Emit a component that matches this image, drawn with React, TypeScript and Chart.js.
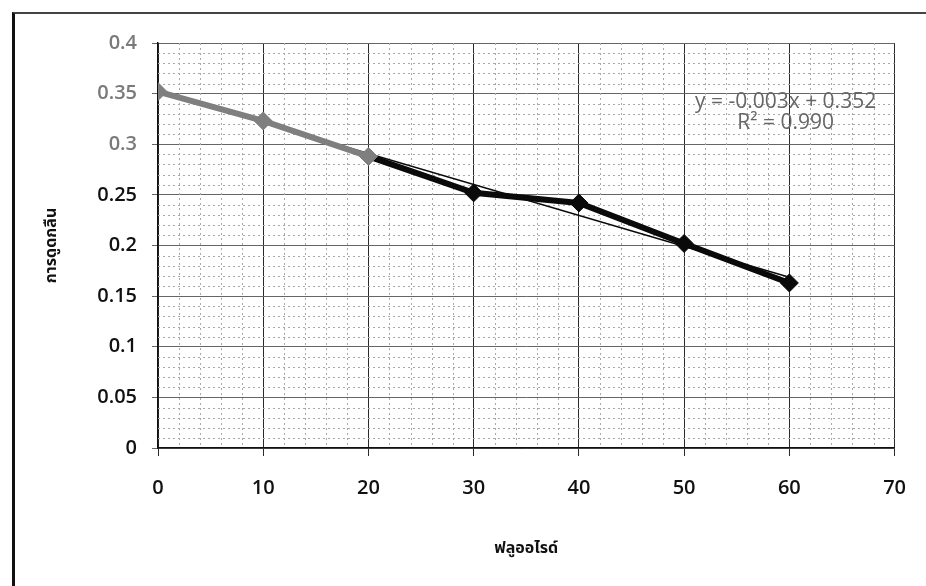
import React, { useEffect, useRef } from 'react';
import { Chart, registerables } from 'chart.js';

Chart.register(...registerables);

// ---- data ----
const fluorideX: number[] = [0, 10, 20, 30, 40, 50, 60];
const absorbance: number[] = [0.352, 0.323, 0.288, 0.252, 0.242, 0.202, 0.163];

const xMin = 0;
const xMax = 70;
const xStep = 10;
const xMinorStep = 2;
const yMin = 0;
const yMax = 0.4;
const yStep = 0.05;
const yMinorStep = 0.01;

const xTitle = 'ฟลูออไรด์';
const yTitle = 'การดูดกลืน';

// ---- regression (trendline) ----
function linReg(xs: number[], ys: number[]) {
  const n = xs.length;
  const mx = xs.reduce((a, b) => a + b, 0) / n;
  const my = ys.reduce((a, b) => a + b, 0) / n;
  let sxy = 0, sxx = 0, syy = 0;
  for (let i = 0; i < n; i++) {
    sxy += (xs[i] - mx) * (ys[i] - my);
    sxx += (xs[i] - mx) ** 2;
    syy += (ys[i] - my) ** 2;
  }
  const slope = sxy / sxx;
  const intercept = my - slope * mx;
  const r2 = (sxy * sxy) / (sxx * syy);
  return { slope, intercept, r2 };
}

const reg = linReg(fluorideX, absorbance);
const trendX = [fluorideX[0], fluorideX[fluorideX.length - 1]];
const trendPoints = trendX.map((x) => ({ x, y: reg.intercept + reg.slope * x }));
const eqLine1 = `y = ${reg.slope.toFixed(3)}x + ${reg.intercept.toFixed(3)}`;
const eqLine2 = `R² = ${reg.r2.toFixed(3)}`;

const GREY = '#7f7f7f';
const BLACK = '#0a0a0a';
const fadeBelowX = 20;

const minorGridPlugin = {
  id: 'minorGrid',
  beforeDatasetsDraw(chart: any) {
    const { ctx, chartArea: a, scales } = chart;
    const xs = scales.x;
    const ys = scales.y;
    ctx.save();
    ctx.setLineDash([2, 3]);
    ctx.strokeStyle = '#a8a8a8';
    ctx.lineWidth = 1;
    for (let i = 0; xMin + i * xMinorStep <= xMax + 1e-9; i++) {
      const v = xMin + i * xMinorStep;
      if (Math.abs(v / xStep - Math.round(v / xStep)) < 1e-9) continue;
      const px = Math.round(xs.getPixelForValue(v)) + 0.5;
      ctx.beginPath();
      ctx.moveTo(px, a.top);
      ctx.lineTo(px, a.bottom);
      ctx.stroke();
    }
    for (let i = 0; yMin + i * yMinorStep <= yMax + 1e-9; i++) {
      const v = yMin + i * yMinorStep;
      if (Math.abs(v / yStep - Math.round(v / yStep)) < 1e-6) continue;
      const py = Math.round(ys.getPixelForValue(v)) + 0.5;
      ctx.beginPath();
      ctx.moveTo(a.left, py);
      ctx.lineTo(a.right, py);
      ctx.stroke();
    }
    ctx.restore();
  },
};

const equationPlugin = {
  id: 'equation',
  afterDatasetsDraw(chart: any) {
    const { ctx, chartArea: a } = chart;
    ctx.save();
    ctx.fillStyle = '#666666';
    ctx.font = '21px "Open Sans", sans-serif';
    ctx.textAlign = 'center';
    ctx.textBaseline = 'middle';
    const cx = a.right - 109;
    ctx.fillText(eqLine1, cx, a.top + 59);
    ctx.fillText(eqLine2, cx, a.top + 80);
    ctx.restore();
  },
};

export default function App() {
  const canvasRef = useRef<HTMLCanvasElement | null>(null);

  useEffect(() => {
    if (!canvasRef.current) return;
    const chart = new Chart(canvasRef.current, {
      type: 'scatter',
      data: {
        datasets: [
          {
            label: 'absorbance',
            data: fluorideX.map((x, i) => ({ x, y: absorbance[i] })),
            showLine: true,
            borderWidth: 6,
            borderColor: BLACK,
            segment: {
              borderColor: (c: any) => (c.p0.parsed.x < fadeBelowX ? GREY : BLACK),
            },
            pointStyle: 'rectRot',
            pointRadius: 9,
            pointBorderWidth: 1,
            pointBackgroundColor: fluorideX.map((x) => (x <= fadeBelowX ? GREY : BLACK)),
            pointBorderColor: fluorideX.map((x) => (x <= fadeBelowX ? GREY : BLACK)),
            order: 1,
          } as any,
          {
            label: 'trend',
            data: trendPoints,
            showLine: true,
            borderWidth: 1.5,
            borderColor: BLACK,
            pointRadius: 0,
            order: 2,
          } as any,
        ],
      },
      options: {
        animation: false,
        responsive: false,
        layout: { padding: { top: 43, right: 13, left: 0, bottom: 0 } },
        plugins: {
          legend: { display: false },
          tooltip: { enabled: false },
        },
        scales: {
          x: {
            type: 'linear',
            min: xMin,
            max: xMax,
            afterFit: (s: any) => {
              s.height = 138;
            },
            ticks: {
              stepSize: xStep,
              padding: 20,
              color: '#111',
              font: { family: '"Open Sans", sans-serif', size: 20, weight: '600' },
            },
            grid: { color: '#2a2a2a', lineWidth: 1, tickLength: 8 },
            border: { color: '#111', width: 1.5 },
            title: {
              display: true,
              text: xTitle,
              color: '#111',
              font: { family: '"Noto Sans Thai", "Noto Sans", sans-serif', size: 16, weight: 'bold' },
              padding: { top: 0, bottom: 27 },
            },
          },
          y: {
            type: 'linear',
            min: yMin,
            max: yMax,
            afterFit: (s: any) => {
              s.width = 158;
            },
            ticks: {
              stepSize: yStep,
              padding: 15,
              callback: (v: any) => String(Number(Number(v).toFixed(2))),
              color: (c: any) => (c.tick && c.tick.value >= 0.3 - 1e-9 ? '#7a7a7a' : '#111'),
              font: { family: '"Open Sans", sans-serif', size: 20, weight: '600' },
            },
            grid: { color: '#666', lineWidth: 1, tickLength: 6 },
            border: { color: '#111', width: 1.5 },
            title: {
              display: true,
              text: yTitle,
              color: '#111',
              font: { family: '"Noto Sans Thai", "Noto Sans", sans-serif', size: 16, weight: 'bold' },
              padding: { top: 43, bottom: 0 },
            },
          },
        },
      },
      plugins: [minorGridPlugin, equationPlugin],
    } as any);
    return () => chart.destroy();
  }, []);

  return (
    <div
      style={{
        position: 'fixed',
        left: 0,
        top: 0,
        width: 926,
        height: 586,
        background: '#fff',
        overflow: 'hidden',
      }}
    >
      <canvas ref={canvasRef} width={926} height={586} style={{ position: 'absolute', left: 0, top: 0 }} />
      <div
        style={{
          position: 'absolute',
          left: 12,
          top: 12,
          width: 940,
          height: 600,
          borderLeft: '3px solid #111',
          borderTop: '2px solid #444',
          pointerEvents: 'none',
        }}
      />
    </div>
  );
}
